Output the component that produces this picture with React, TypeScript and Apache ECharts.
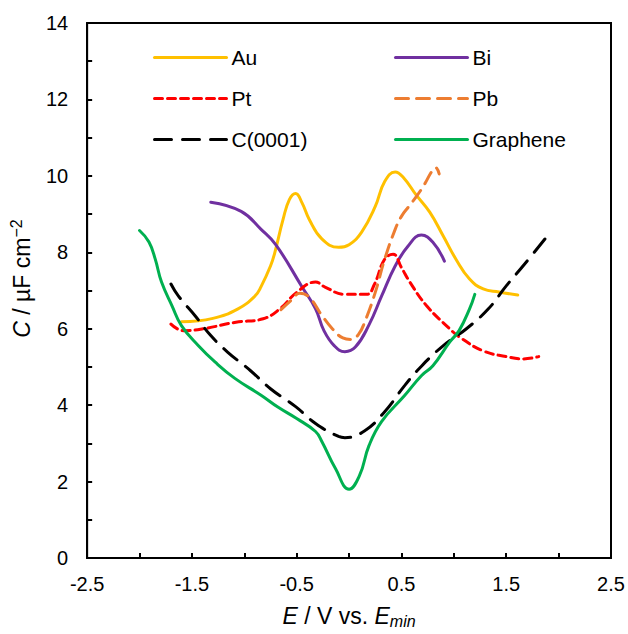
import React, { useEffect, useRef } from "react";
import * as echarts from "echarts";

// E / V vs. E_min  and  C / µF cm^-2
const au = [
  [-1.6, 6.18], [-1.3, 6.27], [-1.06, 6.52], [-0.9, 6.85], [-0.84, 7.1], [-0.75, 7.64],
  [-0.71, 7.98], [-0.63, 8.86], [-0.57, 9.38], [-0.51, 9.54], [-0.45, 9.3], [-0.38, 8.86],
  [-0.26, 8.35], [-0.1, 8.13], [0.0, 8.2], [0.12, 8.53], [0.25, 9.2], [0.34, 9.85],
  [0.44, 10.1], [0.52, 9.95], [0.64, 9.5], [0.77, 9.05], [0.9, 8.42], [1.02, 7.82],
  [1.15, 7.3], [1.28, 7.04], [1.43, 6.96], [1.61, 6.88],
];
const bi = [
  [-1.32, 9.31], [-1.03, 9.07], [-0.84, 8.6], [-0.7, 8.2], [-0.45, 7.1],
  [-0.32, 6.52], [-0.24, 5.95], [-0.14, 5.55], [-0.04, 5.4], [0.06, 5.52], [0.19, 6.1],
  [0.31, 6.85], [0.44, 7.64], [0.56, 8.15], [0.69, 8.45], [0.8, 8.26], [0.91, 7.77],
];
const pt = [
  [-1.7, 6.12], [-1.58, 5.95], [-1.39, 6.0], [-1.08, 6.17], [-0.82, 6.26], [-0.66, 6.52],
  [-0.5, 6.95], [-0.32, 7.22], [-0.23, 7.09], [-0.04, 6.9], [0.17, 6.9], [0.24, 7.15],
  [0.34, 7.82], [0.42, 7.95], [0.5, 7.6], [0.58, 7.22], [0.74, 6.6], [0.96, 6.0],
  [1.05, 5.79], [1.28, 5.42], [1.5, 5.27], [1.66, 5.21], [1.81, 5.27],
];
const pb = [
  [-0.65, 6.5], [-0.55, 6.75], [-0.47, 6.93], [-0.38, 6.82], [-0.26, 6.35], [-0.16, 6.0],
  [-0.06, 5.76], [0.02, 5.72], [0.09, 5.85], [0.15, 6.18], [0.25, 6.95], [0.34, 7.82],
  [0.44, 8.6], [0.5, 8.94], [0.57, 9.2], [0.645, 9.47], [0.72, 9.78], [0.79, 10.12],
  [0.825, 10.22], [0.86, 10.05],
];
const c0001 = [
  [-1.7, 7.17], [-1.63, 6.86], [-1.47, 6.34], [-1.32, 5.82], [-1.16, 5.39], [-0.94, 4.9],
  [-0.75, 4.43], [-0.51, 3.96], [-0.32, 3.52], [-0.1, 3.18], [-0.04, 3.15], [0.15, 3.33],
  [0.34, 3.83], [0.53, 4.51], [0.67, 4.96], [0.9, 5.56], [1.12, 6.0], [1.33, 6.52],
  [1.5, 7.12], [1.66, 7.64], [1.87, 8.35],
];
const graphene = [
  [-2.0, 8.57], [-1.91, 8.27], [-1.85, 7.82], [-1.79, 7.22], [-1.69, 6.6], [-1.6, 6.08],
  [-1.44, 5.56], [-1.28, 5.13], [-1.09, 4.7], [-0.84, 4.26], [-0.68, 3.95], [-0.5, 3.65],
  [-0.32, 3.31], [-0.26, 3.05], [-0.13, 2.34], [0.0, 1.8], [0.1, 2.16], [0.19, 2.94],
  [0.31, 3.57], [0.53, 4.25], [0.69, 4.77], [0.8, 5.03], [0.96, 5.65], [1.05, 5.95],
  [1.15, 6.52], [1.2, 6.9],
];

const legendLeft = ["Au", "Pt", "C(0001)"];
const legendRight = ["Bi", "Pb", "Graphene"];

const FONT = "'Liberation Sans', Arial, sans-serif";

export default function App() {
  const ref = useRef<HTMLDivElement>(null);
  useEffect(() => {
    document.body.style.margin = "0";
    if (!ref.current) return;
    const chart = echarts.init(ref.current, undefined, { renderer: "svg" });
    const mk = (name: string, data: number[][], color: string, type: any) => ({
      name,
      type: "line",
      data,
      smooth: 0.45,
      showSymbol: false,
      symbol: "none",
      lineStyle: { color, width: 3, type, cap: "round" },
      itemStyle: { color },
      z: 3,
    });
    const legendBase = {
      orient: "vertical",
      top: 47,
      itemWidth: 72,
      itemHeight: 20,
      itemGap: 20,
      padding: 0,
      itemStyle: { opacity: 0 },
      lineStyle: { width: 3 },
      textStyle: { fontSize: 21, fontFamily: FONT, color: "#000" },
    };
    chart.setOption({
      animation: false,
      backgroundColor: "#fff",
      grid: {
        left: 83,
        right: 17,
        top: 23,
        bottom: 74,
        show: true,
        borderColor: "#000",
        borderWidth: 2,
      },
      legend: [
        { ...legendBase, left: 153, data: legendLeft },
        { ...legendBase, left: 394, data: legendRight },
      ],
      xAxis: {
        type: "value",
        min: -2.5,
        max: 2.5,
        interval: 0.5,
        name: "{i|E} / V vs. {i|E}{sub|min}",
        nameLocation: "middle",
        nameGap: 44,
        nameTextStyle: {
          fontSize: 23,
          fontFamily: FONT,
          color: "#000",
          lineHeight: 27,
          rich: {
            i: { fontStyle: "italic", fontSize: 23, fontFamily: FONT, color: "#000", lineHeight: 27 },
            sub: { fontStyle: "italic", fontSize: 16, fontFamily: FONT, color: "#000", lineHeight: 16, verticalAlign: "bottom" },
          },
        },
        axisLine: { onZero: false, lineStyle: { color: "#000", width: 2 } },
        axisTick: { inside: true, length: 5, lineStyle: { color: "#000", width: 2 } },
        axisLabel: {
          fontSize: 20,
          fontFamily: FONT,
          color: "#000",
          margin: 16,
          formatter: (v: number) => (Math.abs((v + 2.5) % 1) < 1e-6 ? String(v) : ""),
        },
        splitLine: { show: false },
      },
      yAxis: {
        type: "value",
        min: 0,
        max: 14,
        interval: 1,
        name: "{i|C} / µF cm{sup|−2}",
        nameLocation: "middle",
        nameRotate: 90,
        nameGap: 41,
        nameTextStyle: {
          fontSize: 23,
          fontFamily: FONT,
          color: "#000",
          lineHeight: 27,
          padding: [0, 0, 0, 24],
          rich: {
            i: { fontStyle: "italic", fontSize: 23, fontFamily: FONT, color: "#000", lineHeight: 27 },
            sup: { fontSize: 16, fontFamily: FONT, color: "#000", lineHeight: 16, verticalAlign: "top" },
          },
        },
        axisLine: { show: true, onZero: false, lineStyle: { color: "#000", width: 2 } },
        axisTick: { show: true, inside: true, length: 5, lineStyle: { color: "#000", width: 2 } },
        axisLabel: {
          fontSize: 20,
          fontFamily: FONT,
          color: "#000",
          margin: 19,
          formatter: (v: number) => (v % 2 === 0 ? String(v) : ""),
        },
        splitLine: { show: false },
      },
      series: [
        mk("Au", au, "#FFC000", "solid"),
        mk("Bi", bi, "#7030A0", "solid"),
        mk("Pt", pt, "#FF0000", [8, 5]),
        mk("Pb", pb, "#ED7D31", [13, 8]),
        mk("C(0001)", c0001, "#000000", [17, 11]),
        mk("Graphene", graphene, "#00B050", "solid"),
      ],
    });
    return () => chart.dispose();
  }, []);
  return <div ref={ref} style={{ width: 628, height: 634 }} />;
}
